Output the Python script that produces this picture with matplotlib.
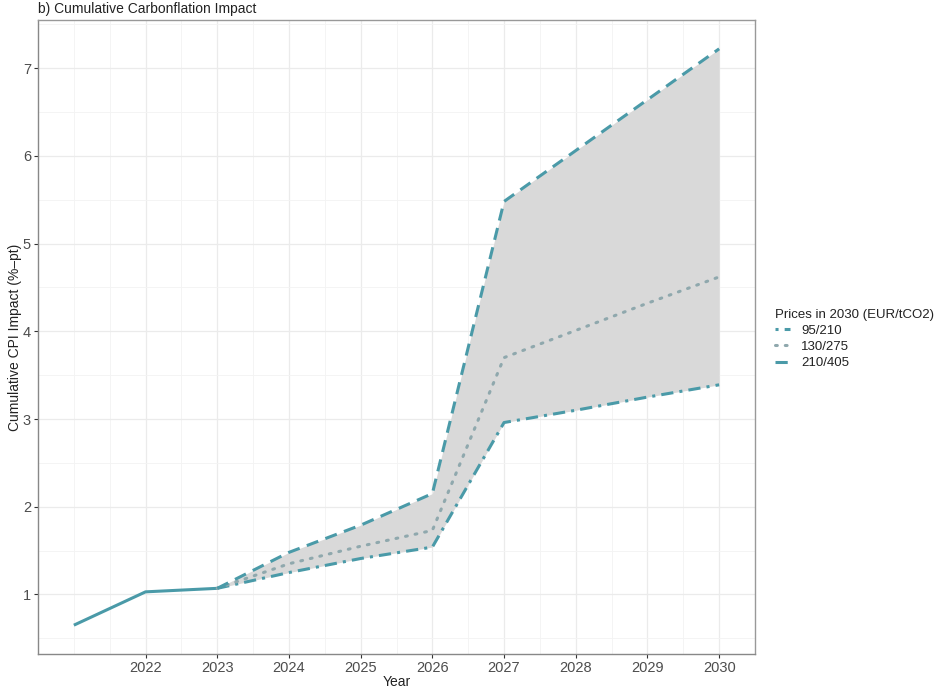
import matplotlib.pyplot as plt
from matplotlib.lines import Line2D

# historical path (shared by all scenarios)
years_hist = [2021, 2022, 2023]
cpi_hist = [0.65, 1.03, 1.07]

# scenario paths from 2023 on
years_scen = [2023, 2024, 2025, 2026, 2027, 2028, 2029, 2030]
cpi_low = [1.07, 1.25, 1.41, 1.54, 2.96, 3.10, 3.25, 3.39]
cpi_mid = [1.07, 1.35, 1.55, 1.73, 3.70, 4.01, 4.32, 4.62]
cpi_high = [1.07, 1.48, 1.79, 2.15, 5.48, 6.06, 6.64, 7.22]

scenario_labels = ['95/210', '130/275', '210/405']
x_ticks = [2022, 2023, 2024, 2025, 2026, 2027, 2028, 2029, 2030]
y_ticks = [1, 2, 3, 4, 5, 6, 7]

line_col = '#4a9aa8'
text_col = '#4d4d4d'

plt.rcParams['font.family'] = ['Liberation Sans', 'DejaVu Sans']

fig = plt.figure(figsize=(9.37, 6.88), dpi=100)
ax = fig.add_axes([38 / 937, 1 - 654 / 688, (755 - 38) / 937, (654 - 20) / 688])

ax.fill_between(years_scen, cpi_low, cpi_high, color='#d9d9d9', lw=0, zorder=2)

ax.plot(years_hist, cpi_hist, color=line_col, lw=2.2, solid_capstyle='butt', zorder=4)
ax.plot(years_scen, cpi_low, color=line_col, lw=2.2, linestyle=(0, (4, 2, 1, 2)), zorder=4)
ax.plot(years_scen, cpi_mid, color='#8fa8ad', lw=2.2, linestyle=(0, (0.6, 2.6)),
        dash_capstyle='round', zorder=4)
ax.plot(years_scen, cpi_high, color=line_col, lw=2.2, linestyle=(0, (4, 2.5)), zorder=4)

all_y = cpi_hist + cpi_low + cpi_high
y_min, y_max = min(all_y), max(all_y)
pad = (y_max - y_min) * 0.05
ax.set_ylim(y_min - pad, y_max + pad)
ax.set_xlim(2021 - 0.45, 2030 + 0.45)

ax.set_xticks(x_ticks)
ax.set_yticks(y_ticks)
ax.set_xticks([x + 0.5 for x in range(2020, 2031)] + [2021], minor=True)
ax.set_yticks([y + 0.5 for y in range(0, 8)], minor=True)
ax.grid(True, which='major', color='#ebebeb', lw=0.9, zorder=0)
ax.grid(True, which='minor', color='#f3f3f3', lw=0.6, zorder=0)
ax.set_axisbelow(True)
ax.tick_params(which='minor', length=0)
ax.tick_params(which='major', length=3, color='#333333', labelcolor=text_col,
               labelsize=10.5, pad=2)

for side in ['top', 'right']:
    ax.spines[side].set_color('#999999')
for side in ['left', 'bottom']:
    ax.spines[side].set_color('#888888')
for s in ax.spines.values():
    s.set_linewidth(1.0)

ax.set_xlabel('Year', fontsize=10, color='#222222', labelpad=0)
ax.set_ylabel('Cumulative CPI Impact (%–pt)', fontsize=10, color='#222222', labelpad=1)
fig.text(38 / 937, 1 - 9 / 688, 'b) Cumulative Carbonflation Impact', fontsize=10,
         color='#222222', va='center', ha='left')

handles = [
    Line2D([], [], color=line_col, lw=2.2, linestyle=(0, (1, 2, 3, 2))),
    Line2D([], [], color='#8fa8ad', lw=2.2, linestyle=(0, (0.6, 2.6)), dash_capstyle='round'),
    Line2D([], [], color=line_col, lw=2.2, linestyle=(0, (4, 2.5))),
]
leg = fig.legend(handles, scenario_labels, title='Prices in 2030 (EUR/tCO2)',
                 loc='upper left', bbox_to_anchor=(768 / 937, 1 - 302 / 688),
                 frameon=False, fontsize=9.5, title_fontsize=9.5,
                 handlelength=1.2, handletextpad=0.8, labelspacing=0.3,
                 borderpad=0, alignment='left')
for t in leg.get_texts():
    t.set_color('#222222')
leg.get_title().set_color('#222222')

fig.savefig('out.png', dpi=100)
